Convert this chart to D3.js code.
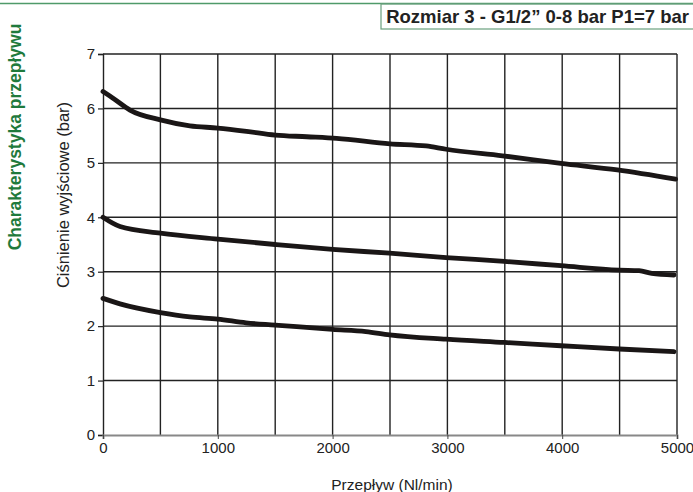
<!DOCTYPE html>
<html>
<head>
<meta charset="utf-8">
<script src="https://cdn.jsdelivr.net/npm/d3@7"></script>
<style>
  body { margin: 0; background: #fff; }
  svg { display: block; font-family: "Liberation Sans", Arial, sans-serif; }
</style>
</head>
<body>
<div id="chart"></div>
<script>
// flow (Nl/min) sample points for each curve
const flowHigh = [0, 100, 235, 500, 757, 1000, 1250, 1500, 1775, 2035, 2500, 2815, 2989, 3480, 3989, 4480, 4988];
const pressHigh = [6.31, 6.17, 5.97, 5.79, 5.68, 5.64, 5.58, 5.51, 5.48, 5.45, 5.35, 5.31, 5.25, 5.13, 4.99, 4.87, 4.70];

const flowMid = [0, 148, 500, 1000, 1500, 2000, 2496, 2989, 3496, 3989, 4496, 4670, 4780, 4974];
const pressMid = [4.00, 3.83, 3.71, 3.60, 3.50, 3.41, 3.34, 3.26, 3.19, 3.11, 3.03, 3.02, 2.97, 2.94];

const flowLow = [0, 148, 500, 757, 1000, 1246, 1500, 2000, 2290, 2496, 2989, 3496, 3989, 4496, 4974];
const pressLow = [2.51, 2.41, 2.25, 2.17, 2.13, 2.06, 2.02, 1.94, 1.90, 1.84, 1.76, 1.70, 1.64, 1.58, 1.53];

const xTicks = [0, 1000, 2000, 3000, 4000, 5000];
const xGrid = d3.range(0, 5001, 500);
const yTicks = [0, 1, 2, 3, 4, 5, 6, 7];

const title = 'Rozmiar 3 - G1/2\u201d 0-8 bar P1=7 bar';
const sideTitle = 'Charakterystyka przepływu';
const xLabel = 'Przepływ (Nl/min)';
const yLabel = 'Ciśnienie wyjściowe (bar)';

const width = 693, height = 492;
const margin = { top: 54, right: 16, bottom: 57, left: 103 };
const green = '#1f7a3c';

const svg = d3.select('#chart').append('svg')
    .attr('width', width)
    .attr('height', height);

const x = d3.scaleLinear().domain([0, 5000]).range([margin.left, width - margin.right]);
const y = d3.scaleLinear().domain([0, 7]).range([height - margin.bottom, margin.top]);

// header line + title box
svg.append('line')
    .attr('x1', 0).attr('x2', width)
    .attr('y1', 3.5).attr('y2', 3.5)
    .attr('stroke', '#4f9a6a').attr('stroke-width', 1.5);

svg.append('rect')
    .attr('x', 381).attr('y', 4)
    .attr('width', width - 381 + 2).attr('height', 25)
    .attr('fill', 'none')
    .attr('stroke', '#6aa07e').attr('stroke-width', 1.2);

svg.append('text')
    .attr('x', 689).attr('y', 23)
    .attr('text-anchor', 'end')
    .style('font-size', '18.5px').style('font-weight', 'bold')
    .attr('fill', '#222')
    .text(title);

// green side title
svg.append('text')
    .attr('transform', 'translate(21,137) rotate(-90)')
    .attr('text-anchor', 'middle')
    .style('font-size', '17.5px').style('font-weight', 'bold')
    .attr('fill', green)
    .text(sideTitle);

// grid
svg.append('g')
    .selectAll('line')
    .data(xGrid.slice(1))
    .enter().append('line')
    .attr('x1', d => x(d)).attr('x2', d => x(d))
    .attr('y1', y(7)).attr('y2', y(0))
    .attr('stroke', '#222').attr('stroke-width', 1.4);

svg.append('g')
    .selectAll('line')
    .data(yTicks.slice(1))
    .enter().append('line')
    .attr('x1', x(0)).attr('x2', x(5000))
    .attr('y1', d => y(d)).attr('y2', d => y(d))
    .attr('stroke', '#222').attr('stroke-width', 1.4);

// axes
const yAxis = svg.append('g')
    .attr('transform', `translate(${x(0)},0)`)
    .call(d3.axisLeft(y).tickValues(yTicks).tickSize(5).tickPadding(3).tickFormat(d3.format('d')));
yAxis.select('.domain').attr('stroke', '#222').attr('stroke-width', 1.4);
yAxis.selectAll('.tick line').attr('stroke', '#222').attr('stroke-width', 1.2);
yAxis.selectAll('text').style('font-size', '15px').attr('fill', '#222');

const xAxis = svg.append('g')
    .attr('transform', `translate(0,${y(0)})`)
    .call(d3.axisBottom(x).tickValues(xTicks).tickSize(4).tickPadding(3).tickFormat(d3.format('d')));
xAxis.select('.domain').attr('stroke', '#888').attr('stroke-width', 2);
xAxis.selectAll('.tick line').attr('stroke', '#444');
xAxis.selectAll('text').style('font-size', '15px').attr('fill', '#222');

// axis titles
svg.append('text')
    .attr('x', (x(0) + x(5000)) / 2 + 2).attr('y', 490)
    .attr('text-anchor', 'middle')
    .style('font-size', '15.5px').attr('fill', '#222')
    .text(xLabel);

svg.append('text')
    .attr('transform', 'translate(69,195) rotate(-90)')
    .attr('text-anchor', 'middle')
    .style('font-size', '16.5px').attr('fill', '#222')
    .text(yLabel);

// curves
const series = [
  flowHigh.map((f, i) => [f, pressHigh[i]]),
  flowMid.map((f, i) => [f, pressMid[i]]),
  flowLow.map((f, i) => [f, pressLow[i]])
];

const line = d3.line()
    .x(d => x(d[0]))
    .y(d => y(d[1]))
    .curve(d3.curveMonotoneX);

svg.append('g')
    .selectAll('path')
    .data(series)
    .enter().append('path')
    .attr('d', line)
    .attr('fill', 'none')
    .attr('stroke', '#1a1616')
    .attr('stroke-width', 4.8)
    .attr('stroke-linecap', 'round')
    .attr('stroke-linejoin', 'round');
</script>
</body>
</html>
